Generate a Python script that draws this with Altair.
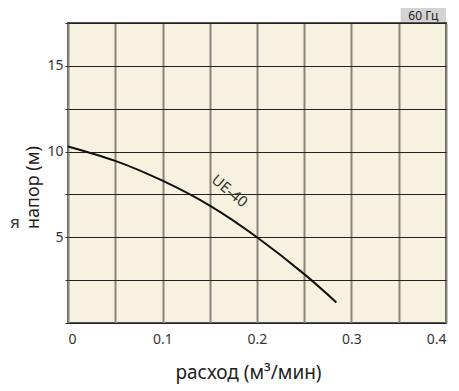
import altair as alt
import pandas as pd

# Data
flow = [0.0, 0.05, 0.1, 0.15, 0.2, 0.25, 0.284]
head = [10.3, 9.46, 8.3, 6.85, 5.0, 2.85, 1.2]
series_label = "UE-40"
label_x = [0.171]
label_y = [7.7]
x_grid = [0, 0.05, 0.1, 0.15, 0.2, 0.25, 0.3, 0.35, 0.4]
y_grid = [0, 2.5, 5, 7.5, 10, 12.5, 15, 17.5]
freq_label = "60 Гц"
freq_x = [0.352]
freq_x2 = [0.4]

FONT = "Noto Sans"

df = pd.DataFrame({"flow": flow, "head": head})
xs = alt.Scale(domain=[0, 0.4], nice=False, zero=False)
ys = alt.Scale(domain=[0, 17.5], nice=False, zero=False)

x_axis = alt.Axis(
    values=x_grid, format=".1~f",
    labelExpr="round(datum.value*100) % 10 == 0 ? datum.label : ''",
    grid=True, gridColor="#8a857a", gridWidth=2, gridOpacity=1,
    ticks=False, domain=False, labelFontSize=14, labelColor="#333333",
    labelFont=FONT, labelPadding=9,
    title="расход (м³/мин)", titleFontSize=19, titleFont=FONT,
    titleFontWeight="normal", titleColor="#222222", titlePadding=17,
    titleX=180,
)
y_axis = alt.Axis(
    values=y_grid,
    labelExpr="datum.value % 5 == 0 && datum.value > 0 ? datum.label : ''",
    grid=True, gridColor="#222222", gridWidth=1, gridOpacity=1,
    ticks=True, tickSize=3, tickColor="#333333", domain=False,
    labelFontSize=14, labelColor="#333333", labelFont=FONT, labelPadding=2,
    title="напор (м)", titleFontSize=18, titleFont=FONT,
    titleFontWeight="normal", titleColor="#222222", titlePadding=4,
    titleY=164,
)

line = alt.Chart(df).mark_line(
    interpolate="natural", color="#111111", strokeWidth=2
).encode(
    x=alt.X("flow:Q", scale=xs, axis=x_axis),
    y=alt.Y("head:Q", scale=ys, axis=y_axis),
)

lab = alt.Chart(pd.DataFrame({"x": label_x, "y": label_y, "t": [series_label]})).mark_text(
    angle=40, fontSize=15, font=FONT, color="#333333"
).encode(x=alt.X("x:Q", scale=xs), y=alt.Y("y:Q", scale=ys), text="t:N")

freq_box = alt.Chart(pd.DataFrame({"x": freq_x, "x2": freq_x2})).mark_rect(
    color="#d3d3d3", clip=False
).encode(x=alt.X("x:Q", scale=xs), x2="x2:Q", y=alt.value(-15), y2=alt.value(-1))

freq_text = alt.Chart(pd.DataFrame({"x": freq_x, "x2": freq_x2, "t": [freq_label]})).transform_calculate(
    xm="(datum.x + datum.x2) / 2"
).mark_text(fontSize=12, font=FONT, color="#222222", baseline="middle").encode(
    x=alt.X("xm:Q", scale=xs), y=alt.value(-7), text="t:N"
)

side = alt.Chart(pd.DataFrame({"t": ["я"]})).mark_text(
    fontSize=17, font=FONT, color="#333333", align="left"
).encode(x=alt.value(-58), y=alt.value(200), text="t:N")

chart = alt.layer(freq_box, freq_text, line, lab, side).properties(
    width=378, height=300,
    autosize=alt.AutoSizeParams(type="none"),
    padding={"left": 60, "top": 15, "right": 5, "bottom": 62},
).configure_view(
    fill="#f7f1df", stroke="#555555", strokeWidth=2
)

chart.save("out.html", embed_options={"renderer": "svg", "actions": False})
